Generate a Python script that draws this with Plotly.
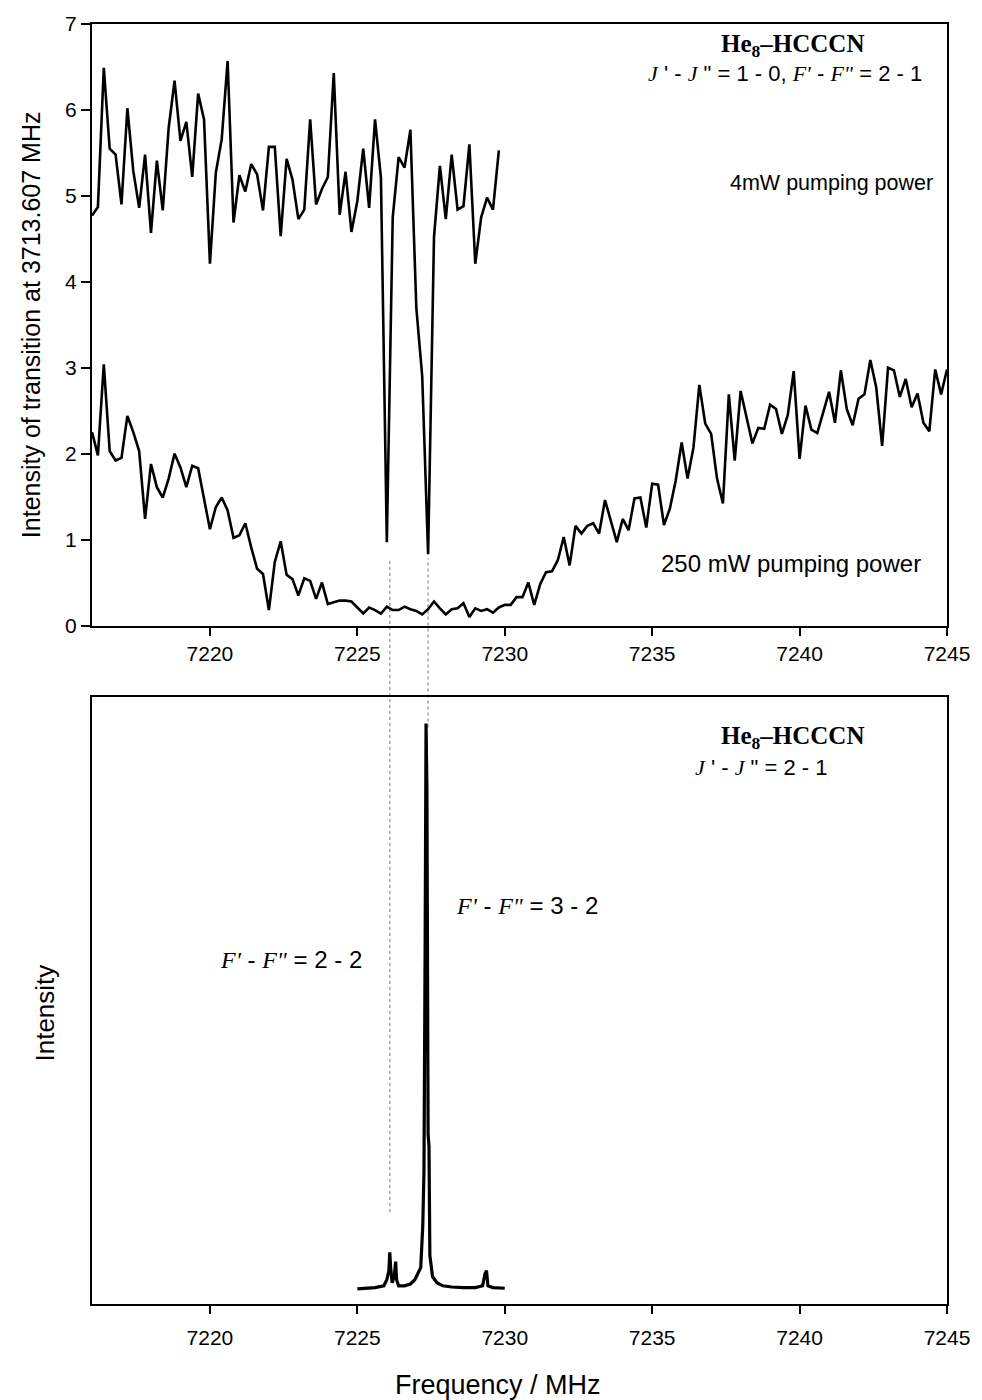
import plotly.graph_objects as go

# ---------------- data ----------------
# frequency grid of the scanned double-resonance spectra (MHz)
freq_scan = [
    7216.0, 7216.2, 7216.4, 7216.6, 7216.8, 7217.0, 7217.2, 7217.4, 7217.6, 7217.8,
    7218.0, 7218.2, 7218.4, 7218.6, 7218.8, 7219.0, 7219.2, 7219.4, 7219.6, 7219.8,
    7220.0, 7220.2, 7220.4, 7220.6, 7220.8, 7221.0, 7221.2, 7221.4, 7221.6, 7221.8,
    7222.0, 7222.2, 7222.4, 7222.6, 7222.8, 7223.0, 7223.2, 7223.4, 7223.6, 7223.8,
    7224.0, 7224.2, 7224.4, 7224.6, 7224.8, 7225.0, 7225.2, 7225.4, 7225.6, 7225.8,
    7226.0, 7226.2, 7226.4, 7226.6, 7226.8, 7227.0, 7227.2, 7227.4, 7227.6, 7227.8,
    7228.0, 7228.2, 7228.4, 7228.6, 7228.8, 7229.0, 7229.2, 7229.4, 7229.6, 7229.8,
    7230.0, 7230.2, 7230.4, 7230.6, 7230.8, 7231.0, 7231.2, 7231.4, 7231.6, 7231.8,
    7232.0, 7232.2, 7232.4, 7232.6, 7232.8, 7233.0, 7233.2, 7233.4, 7233.6, 7233.8,
    7234.0, 7234.2, 7234.4, 7234.6, 7234.8, 7235.0, 7235.2, 7235.4, 7235.6, 7235.8,
    7236.0, 7236.2, 7236.4, 7236.6, 7236.8, 7237.0, 7237.2, 7237.4, 7237.6, 7237.8,
    7238.0, 7238.2, 7238.4, 7238.6, 7238.8, 7239.0, 7239.2, 7239.4, 7239.6, 7239.8,
    7240.0, 7240.2, 7240.4, 7240.6, 7240.8, 7241.0, 7241.2, 7241.4, 7241.6, 7241.8,
    7242.0, 7242.2, 7242.4, 7242.6, 7242.8, 7243.0, 7243.2, 7243.4, 7243.6, 7243.8,
    7244.0, 7244.2, 7244.4, 7244.6, 7244.8, 7245.0,
]

# 4 mW pumping power (first 70 frequencies of the grid)
intensity_4mw = [
    4.77, 4.87, 6.49, 5.55, 5.48, 4.90, 6.02, 5.29, 4.86, 5.48,
    4.57, 5.41, 4.83, 5.79, 6.34, 5.64, 5.86, 5.22, 6.19, 5.89,
    4.21, 5.27, 5.66, 6.57, 4.69, 5.24, 5.05, 5.37, 5.25, 4.83,
    5.57, 5.57, 4.53, 5.43, 5.19, 4.73, 4.84, 5.89, 4.90, 5.08,
    5.22, 6.43, 4.78, 5.28, 4.58, 4.94, 5.55, 4.86, 5.89, 5.21,
    0.97, 4.75, 5.45, 5.33, 5.77, 3.70, 2.90, 0.83, 4.52, 5.35,
    4.73, 5.48, 4.84, 4.88, 5.60, 4.21, 4.75, 4.98, 4.84, 5.53,
]

# 250 mW pumping power (full grid)
intensity_250mw = [
    2.25, 1.98, 3.04, 2.03, 1.92, 1.95, 2.44, 2.25, 2.03, 1.24,
    1.88, 1.61, 1.49, 1.71, 2.00, 1.84, 1.61, 1.86, 1.83, 1.49,
    1.12, 1.38, 1.49, 1.34, 1.02, 1.05, 1.19, 0.91, 0.66, 0.60,
    0.18, 0.74, 0.98, 0.59, 0.54, 0.35, 0.55, 0.52, 0.31, 0.50,
    0.25, 0.27, 0.29, 0.29, 0.28, 0.21, 0.14, 0.21, 0.18, 0.14,
    0.22, 0.18, 0.18, 0.22, 0.19, 0.17, 0.13, 0.19, 0.28, 0.20,
    0.13, 0.19, 0.20, 0.26, 0.10, 0.20, 0.17, 0.19, 0.15, 0.21,
    0.24, 0.24, 0.33, 0.33, 0.50, 0.24, 0.48, 0.62, 0.63, 0.76,
    1.03, 0.70, 1.16, 1.07, 1.16, 1.19, 1.07, 1.46, 1.22, 0.97,
    1.24, 1.11, 1.48, 1.49, 1.14, 1.65, 1.64, 1.17, 1.36, 1.69,
    2.13, 1.71, 2.07, 2.80, 2.35, 2.23, 1.71, 1.42, 2.69, 1.92,
    2.73, 2.42, 2.12, 2.30, 2.29, 2.57, 2.52, 2.23, 2.45, 2.96,
    1.94, 2.56, 2.28, 2.24, 2.48, 2.72, 2.36, 2.97, 2.52, 2.33,
    2.64, 2.69, 3.09, 2.77, 2.09, 3.00, 2.97, 2.66, 2.87, 2.54,
    2.70, 2.36, 2.26, 2.98, 2.69, 2.98,
]

# J'-J'' = 2-1 spectrum (arbitrary intensity units)
freq_spec = [
    7225.00, 7225.30, 7225.60, 7225.90, 7226.00, 7226.07, 7226.10, 7226.13,
    7226.18, 7226.25, 7226.30, 7226.33, 7226.40, 7226.60, 7226.80, 7226.95,
    7227.05, 7227.15, 7227.22, 7227.26, 7227.30, 7227.33, 7227.36, 7227.40,
    7227.43, 7227.46, 7227.55, 7227.70, 7227.90, 7228.20, 7228.60, 7229.00,
    7229.25, 7229.33, 7229.38, 7229.43, 7229.60, 7230.00,
]
intensity_spec = [
    0.025, 0.026, 0.027, 0.030, 0.040, 0.055, 0.085, 0.060,
    0.035, 0.045, 0.070, 0.040, 0.030, 0.030, 0.033, 0.040,
    0.050, 0.060, 0.130, 0.220, 0.600, 0.957, 0.850, 0.280,
    0.260, 0.080, 0.045, 0.035, 0.030, 0.028, 0.027, 0.027,
    0.030, 0.050, 0.055, 0.030, 0.027, 0.026,
]

# hyperfine components linking the two panels (MHz)
marker_freqs = [7226.1, 7227.4]

x_ticks = [7220, 7225, 7230, 7235, 7240, 7245]
y_ticks_top = [0, 1, 2, 3, 4, 5, 6, 7]

# ---------------- figure ----------------
SANS = "Liberation Sans, Arial, sans-serif"
SERIF = "Liberation Serif, Times New Roman, serif"

W, H = 982, 1400
L, R, T, B = 92, 30, 23, 96
plot_h = H - T - B


def py(pix):
    """pixel row -> paper y"""
    return (H - B - pix) / plot_h


def px(pix):
    return (pix - L) / (W - L - R)


def it(s):
    return '<span style="font-family:' + SERIF + ';font-style:italic">' + s + '</span>'


fig = go.Figure()

line = dict(color="black", width=2.6)
fig.add_trace(go.Scatter(x=freq_scan[:len(intensity_4mw)], y=intensity_4mw, mode="lines",
                         line=line, xaxis="x", yaxis="y", showlegend=False))
fig.add_trace(go.Scatter(x=freq_scan, y=intensity_250mw, mode="lines",
                         line=line, xaxis="x", yaxis="y", showlegend=False))
fig.add_trace(go.Scatter(x=freq_spec, y=intensity_spec, mode="lines",
                         line=dict(color="black", width=3.2), xaxis="x2", yaxis="y2",
                         showlegend=False))

top_dom = [py(625), 1.0]
bot_dom = [0.0, py(697)]

axis_common = dict(
    range=[7216, 7245], tickvals=x_ticks, ticks="outside", ticklen=8, tickwidth=2,
    tickcolor="black", showline=True, linecolor="black", linewidth=2, mirror=True,
    showgrid=False, zeroline=False,
    tickfont=dict(family=SANS, size=21, color="black"),
)

fig.update_layout(
    width=W, height=H,
    margin=dict(l=L, r=R, t=T, b=B),
    paper_bgcolor="white", plot_bgcolor="white",
    xaxis=dict(anchor="y", domain=[0, 1], **axis_common),
    xaxis2=dict(anchor="y2", domain=[0, 1], ticklabelstandoff=6, **axis_common),
    yaxis=dict(domain=top_dom, range=[0, 7], tickvals=y_ticks_top, ticks="outside",
               ticklen=9, tickwidth=2, tickcolor="black", showline=True,
               linecolor="black", linewidth=2, mirror=True, showgrid=False,
               zeroline=False, tickfont=dict(family=SANS, size=21, color="black")),
    yaxis2=dict(domain=bot_dom, range=[0, 1], showticklabels=False, ticks="",
                showline=True, linecolor="black", linewidth=2, mirror=True,
                showgrid=False, zeroline=False),
)

# faint dotted guide lines through the dips / peaks
for f, y0, y1 in zip(marker_freqs, [py(1212), py(727)], [py(558), py(558)]):
    fig.add_shape(type="line", xref="x", yref="paper", x0=f, x1=f, y0=y0, y1=y1,
                  line=dict(color="#a8a8a8", width=1.6, dash="dot"), layer="below")

ann = []


def add(text, x, y, size=20, family=SANS, angle=0, xanchor="center"):
    ann.append(dict(text=text, xref="paper", yref="paper", x=px(x), y=py(y),
                    xanchor=xanchor, yanchor="middle", showarrow=False, textangle=angle,
                    font=dict(family=family, size=size, color="black")))


J = it("J")
Fp = it("F'")
Fpp = it('F"')
he = "<b>He<sub>8</sub>–HCCCN</b>"
add(he, 797, 45, size=25, family=SERIF)
add(J + " ' - " + J + ' " = 1 - 0, ' + Fp + " - " + Fpp + " = 2 - 1", 789, 73, size=22)
add("4mW pumping power", 940, 182, size=21.5, xanchor="right")
add("250 mW pumping power", 928, 563, size=24, xanchor="right")

add(he, 797, 737, size=25, family=SERIF)
add(J + " ' - " + J + ' " = 2 - 1', 697, 767, size=22, xanchor="left")
add(Fp + " - " + Fpp + " = 3 - 2", 530, 905, size=24)
add(Fp + " - " + Fpp + " = 2 - 2", 292, 959, size=24)

add("Intensity of transition at 3713.607 MHz", 30, 324, size=25, angle=-90)
add("Intensity", 45, 1013, size=26, angle=-90)
add("Frequency / MHz", 500, 1385, size=27)

fig.update_layout(annotations=ann)

fig.write_html("out.html")
